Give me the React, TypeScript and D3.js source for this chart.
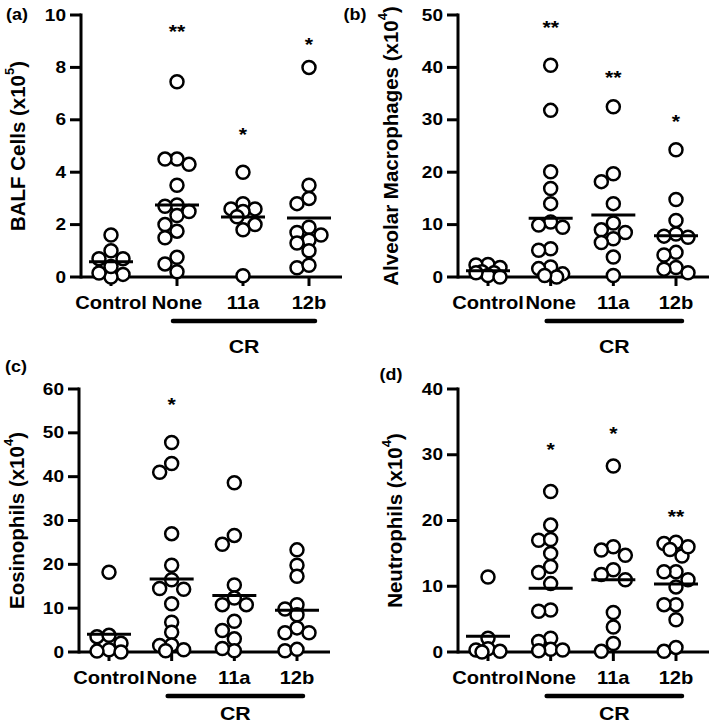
import React from 'react';
import * as d3 from 'd3';

const groups = ['Control', 'None', '11a', '12b'];

// (a) BALF cells (x10^5)
const balfControl = [1.6, 0.7, 0.1, 0.0, 1.0, 0.7, 0.4, 0.15];
const balfNone = [7.45, 4.5, 4.5, 4.3, 3.5, 2.75, 2.7, 2.35, 2.5, 2.0, 1.75, 1.5, 0.75, 0.5, 0.2];
const balf11a = [4.0, 2.8, 2.6, 2.6, 2.5, 2.3, 2.0, 1.8, 0.05];
const balf12b = [8.0, 3.5, 3.0, 2.8, 1.9, 1.7, 1.6, 1.4, 1.3, 0.35, 0.45, 1.0];
const balfTicks = [0, 2, 4, 6, 8, 10];
const balfStars = ['', '**', '*', '*'];
const balfStarY = [0, 9.54, 5.6, 9.05];

// (b) Alveolar macrophages (x10^4)
const amControl = [2.4, 2.3, 1.8, 1.0, 0.8, 0.3, 0.0, 0.8];
const amNone = [40.4, 31.8, 20.1, 16.9, 14.0, 10.5, 9.5, 9.9, 5.4, 5.1, 1.9, 1.6, 0.6, 0.0, 0.3];
const am11a = [32.5, 19.7, 18.2, 14.0, 10.3, 9.0, 7.3, 6.6, 3.8, 0.3, 8.5];
const am12b = [24.3, 14.8, 10.8, 8.2, 7.8, 7.6, 4.7, 4.2, 1.8, 1.5, 0.8];
const amTicks = [0, 10, 20, 30, 40, 50];
const amStars = ['', '**', '**', '*'];
const amStarY = [0, 48.5, 38.9, 30.5];

// (c) Eosinophils (x10^4)
const eoControl = [18.2, 3.5, 3.8, 2.0, 0.5, 0.2, 0.0];
const eoNone = [47.8, 43.0, 41.0, 27.0, 19.8, 16.5, 14.5, 14.3, 11.0, 6.8, 4.5, 1.6, 1.5, 0.3, 0.5];
const eo11a = [38.6, 26.6, 24.6, 15.3, 12.3, 10.8, 10.8, 7.0, 4.9, 3.0, 0.3, 0.8];
const eo12b = [23.3, 19.8, 17.3, 10.8, 9.8, 8.5, 5.5, 4.4, 4.4, 0.3, 0.6];
const eoTicks = [0, 10, 20, 30, 40, 50, 60];
const eoStars = ['', '*', '', ''];
const eoStarY = [0, 57.5, 0, 0];

// (d) Neutrophils (x10^4)
const neControl = [11.4, 2.1, 0.5, 0.3, 0.1, 0.0];
const neNone = [24.4, 19.3, 17.0, 17.1, 15.0, 13.0, 12.1, 10.4, 6.4, 6.2, 2.1, 1.6, 0.4, 0.2, 0.3];
const ne11a = [28.3, 16.0, 15.5, 14.7, 12.5, 11.8, 11.0, 6.0, 3.8, 1.3, 0.1];
const ne12b = [16.5, 16.7, 15.6, 14.6, 12.2, 12.2, 9.9, 11.0, 7.2, 7.2, 4.9, 0.1, 0.7, 16.0];
const neTicks = [0, 10, 20, 30, 40];
const neStars = ['', '*', '*', '**'];
const neStarY = [0, 31.5, 33.9, 21.3];

const FONT = '"Liberation Sans", Arial, Helvetica, sans-serif';
const SX = 1.12; // horizontal stretch of the source figure's lettering

type Panel = {
  tag: string;
  label: string;
  sup: string;
  data: number[][];
  ticks: number[];
  stars: string[];
  starY: number[];
  axisX: number;
  xEnd: number;
  cat0: number;
  cat3: number;
  yTop: number;
  yBottom: number;
  labelX: number;
  tagX: number;
  tagY: number;
  crDy: number;
};

const panels: Panel[] = [
  {
    tag: '(a)', label: 'BALF Cells (x10', sup: '5',
    data: [balfControl, balfNone, balf11a, balf12b], ticks: balfTicks,
    stars: balfStars, starY: balfStarY,
    axisX: 81, xEnd: 342, cat0: 111, cat3: 309, yTop: 15, yBottom: 277,
    labelX: 17, tagX: 17, tagY: 15, crDy: 76,
  },
  {
    tag: '(b)', label: 'Alveolar Macrophages (x10', sup: '4',
    data: [amControl, amNone, am11a, am12b], ticks: amTicks,
    stars: amStars, starY: amStarY,
    axisX: 458, xEnd: 709, cat0: 488, cat3: 676, yTop: 15, yBottom: 277,
    labelX: 390, tagX: 355, tagY: 15, crDy: 76,
  },
  {
    tag: '(c)', label: 'Eosinophils (x10', sup: '4',
    data: [eoControl, eoNone, eo11a, eo12b], ticks: eoTicks,
    stars: eoStars, starY: eoStarY,
    axisX: 79, xEnd: 330, cat0: 109, cat3: 297, yTop: 389, yBottom: 652,
    labelX: 16, tagX: 16, tagY: 367, crDy: 68,
  },
  {
    tag: '(d)', label: 'Neutrophils (x10', sup: '4',
    data: [neControl, neNone, ne11a, ne12b], ticks: neTicks,
    stars: neStars, starY: neStarY,
    axisX: 458, xEnd: 709, cat0: 488, cat3: 676, yTop: 389, yBottom: 652,
    labelX: 394, tagX: 391, tagY: 375, crDy: 68,
  },
];

function swarm(values: number[], y: (v: number) => number, step: number, minDist: number) {
  const idx = values.map((_, i) => i).sort((a, b) => values[b] - values[a]);
  const placed: { x: number; y: number }[] = [];
  const out: number[] = new Array(values.length).fill(0);
  const cands = [0, -1, 1, -0.5, 0.5];
  for (const i of idx) {
    const py = y(values[i]);
    let best = 0;
    let bestD = -1;
    for (const c of cands) {
      const px = c * step;
      let md = Infinity;
      for (const p of placed) md = Math.min(md, Math.hypot(p.x - px, p.y - py));
      if (md >= minDist) { best = px; bestD = Infinity; break; }
      if (md > bestD) { bestD = md; best = px; }
    }
    placed.push({ x: best, y: py });
    out[i] = best;
  }
  return out;
}

function SText({ x, y, size, children, anchor = 'middle', baseline = 'central' }:
  { x: number; y: number; size: number; children: React.ReactNode; anchor?: string; baseline?: string }) {
  return (
    <text transform={`translate(${x},${y}) scale(${SX},1)`} textAnchor={anchor as any}
      dominantBaseline={baseline as any} fontSize={size} fontWeight="bold" fontFamily={FONT}>
      {children}
    </text>
  );
}

function PanelView({ p }: { p: Panel }) {
  const yMax = p.ticks[p.ticks.length - 1];
  const y = d3.scaleLinear().domain([0, yMax]).range([p.yBottom, p.yTop]);
  const x = d3.scalePoint<string>().domain(groups).range([p.cat0, p.cat3]);
  const crL = (x('None') as number) - 4;
  const crR = (x('12b') as number) + 6;
  const midY = (p.yTop + p.yBottom) / 2;
  return (
    <g>
      {/* panel tag */}
      <SText x={p.tagX} y={p.tagY} size={16}>{p.tag}</SText>
      {/* y label */}
      <text transform={`translate(${p.labelX},${midY}) rotate(-90)`} textAnchor="middle"
        dominantBaseline="central" fontSize={20.5} fontWeight="bold" fontFamily={FONT}>
        {p.label}
        <tspan fontSize={13} dy={-8}>{p.sup}</tspan>
        <tspan dy={8}>)</tspan>
      </text>
      {/* y axis */}
      <line x1={p.axisX} x2={p.axisX} y1={p.yTop - 1.5} y2={p.yBottom + 1.5} stroke="#000" strokeWidth={3} />
      {p.ticks.map((t) => (
        <g key={t}>
          <line x1={p.axisX - 11} x2={p.axisX} y1={y(t)} y2={y(t)} stroke="#000" strokeWidth={3} />
          <SText x={p.axisX - 15} y={y(t)} size={17} anchor="end">{t}</SText>
        </g>
      ))}
      {/* x axis */}
      <line x1={p.axisX} x2={p.xEnd} y1={p.yBottom} y2={p.yBottom} stroke="#000" strokeWidth={3} />
      {groups.map((g) => (
        <g key={g}>
          <line x1={x(g)} x2={x(g)} y1={p.yBottom} y2={p.yBottom + 9} stroke="#000" strokeWidth={3} />
          <SText x={x(g) as number} y={p.yBottom + 26} size={18}>{g}</SText>
        </g>
      ))}
      {/* CR bracket */}
      <line x1={crL} x2={crR} y1={p.yBottom + 44} y2={p.yBottom + 44} stroke="#000" strokeWidth={4.5} strokeLinecap="round" />
      <SText x={(crL + crR) / 2} y={p.yBottom + p.crDy} size={19} baseline="auto">CR</SText>
      {/* points */}
      {p.data.map((vals, gi) => {
        const cx = x(groups[gi]) as number;
        const offs = swarm(vals, y, 12, 10);
        return (
          <g key={gi}>
            {vals.map((v, i) => (
              <circle key={i} cx={cx + offs[i]} cy={y(v)} r={6.5} fill="#fff" stroke="#000" strokeWidth={2.5} />
            ))}
          </g>
        );
      })}
      {/* mean lines */}
      {p.data.map((vals, gi) => {
        const cx = x(groups[gi]) as number;
        const m = d3.mean(vals) as number;
        return <line key={gi} x1={cx - 22} x2={cx + 22} y1={y(m)} y2={y(m)} stroke="#000" strokeWidth={3} />;
      })}
      {/* significance */}
      {p.stars.map((s, gi) => s ? (
        <SText key={gi} x={x(groups[gi]) as number} y={y(p.starY[gi]) + 11} size={19} baseline="auto">{s}</SText>
      ) : null)}
    </g>
  );
}

export default function App() {
  return (
    <svg width={709} height={724} style={{ position: 'absolute', left: 0, top: 0, background: '#fff' }}>
      <rect width={709} height={724} fill="#fff" />
      {panels.map((p) => <PanelView key={p.tag} p={p} />)}
    </svg>
  );
}
